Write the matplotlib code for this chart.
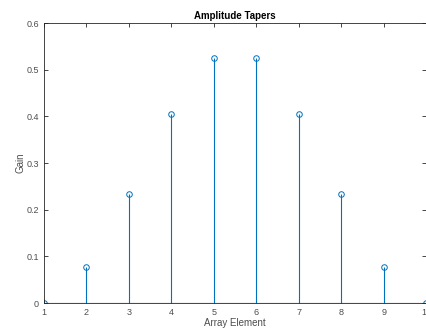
import matplotlib
matplotlib.use("Agg")
import matplotlib.pyplot as plt

elements = [1, 2, 3, 4, 5, 6, 7, 8, 9, 10]
gains = [0.0, 0.078, 0.234, 0.404, 0.525, 0.525, 0.404, 0.234, 0.078, 0.0]
xticks = [1, 2, 3, 4, 5, 6, 7, 8, 9, 10]
yticks = [0, 0.1, 0.2, 0.3, 0.4, 0.5, 0.6]

plt.rcParams['font.family'] = ['Liberation Sans', 'DejaVu Sans']
fig = plt.figure(figsize=(4.27, 3.29), dpi=100)
ax = fig.add_axes([0.103, 0.079, 0.895, 0.851])

blue = '#0072BD'
markerline, stemlines, baseline = ax.stem(elements, gains, basefmt=' ')
plt.setp(stemlines, color=blue, linewidth=0.8)
plt.setp(markerline, marker='o', markersize=4, markerfacecolor='none',
         markeredgecolor=blue, markeredgewidth=0.7)
ax.axhline(0, color='#262626', linewidth=0.8, zorder=1)

ax.set_xlim(1, 10)
ax.set_ylim(0, 0.6)
ax.set_xticks(xticks)
ax.set_yticks(yticks)
ax.set_yticklabels(['0', '0.1', '0.2', '0.3', '0.4', '0.5', '0.6'])
ax.tick_params(direction='in', length=3, width=0.6, labelsize=6.5,
               color='#262626', labelcolor='#4d4d4d', top=True, right=True)
for s in ax.spines.values():
    s.set_color('#262626')
    s.set_linewidth(0.6)
ax.set_title('Amplitude Tapers', fontsize=7, fontweight='bold', pad=3)
ax.set_xlabel('Array Element', fontsize=7, color='#4d4d4d', labelpad=1)
ax.set_ylabel('Gain', fontsize=7, color='#4d4d4d', labelpad=1)

fig.savefig('out.png', dpi=100)
